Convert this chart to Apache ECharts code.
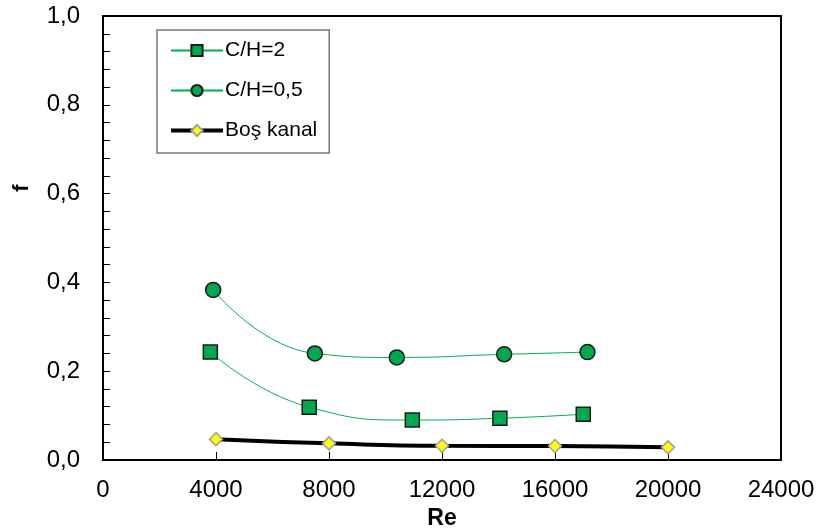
<!DOCTYPE html>
<html>
<head>
<meta charset="utf-8">
<script src="https://cdn.jsdelivr.net/npm/echarts@6/dist/echarts.min.js"></script>
<style>
  html, body { margin: 0; padding: 0; background: #fff; }
  #chart { width: 823px; height: 528px; }
</style>
</head>
<body>
<div id="chart"></div>
<script>
// Friction factor f against Reynolds number
const reCH2 = [3800, 7300, 10950, 14050, 17000];
const fCH2 = [0.243, 0.119, 0.090, 0.094, 0.103];

const reCH05 = [3900, 7500, 10400, 14200, 17150];
const fCH05 = [0.383, 0.240, 0.231, 0.238, 0.243];

const reEmpty = [4000, 8000, 12000, 16000, 20000];
const fEmpty = [0.047, 0.0375, 0.032, 0.0315, 0.0285];

const seriesNames = ['C/H=2', 'C/H=0,5', 'Boş kanal'];

const FONT = '"Liberation Sans", Arial, sans-serif';

function pairs(xs, ys) { return xs.map((x, i) => [x, ys[i]]); }

const chart = echarts.init(document.getElementById('chart'), null, { renderer: 'canvas' });

chart.setOption({
  animation: false,
  backgroundColor: '#ffffff',
  grid: {
    left: 103, right: 42, top: 16, bottom: 68,
    containLabel: false,
    outerBoundsMode: 'none',
    show: true, borderColor: '#000', borderWidth: 2, backgroundColor: 'transparent'
  },
  legend: {
    orient: 'vertical',
    left: 157, top: 30,
    padding: [10, 12, 12, 12],
    itemGap: 19,
    itemWidth: 52, itemHeight: 14,
    backgroundColor: '#fff',
    borderColor: '#777', borderWidth: 1.5,
    textStyle: { fontFamily: FONT, fontSize: 21, color: '#000', padding: [0, 0, 0, -3] },
    data: [
      { name: seriesNames[0] },
      { name: seriesNames[1] },
      { name: seriesNames[2], lineStyle: { width: 4, color: '#000' } }
    ]
  },
  xAxis: {
    type: 'value', min: 0, max: 24000, interval: 4000,
    name: 'Re', nameLocation: 'middle', nameGap: 34,
    nameTextStyle: { fontFamily: FONT, fontSize: 23, fontWeight: 'bold', color: '#000' },
    axisLine: { onZero: false, lineStyle: { color: '#000', width: 2 } },
    axisTick: { inside: true, length: 8, lineStyle: { color: '#000', width: 1 } },
    axisLabel: {
      fontFamily: FONT, fontSize: 24, color: '#000', margin: 18,
      formatter: v => String(v)
    },
    splitLine: { show: false }
  },
  yAxis: {
    type: 'value', min: 0, max: 1, interval: 0.2,
    name: 'f', nameLocation: 'middle', nameGap: 70, nameRotate: 90,
    nameTextStyle: {
      fontFamily: FONT, fontSize: 22, fontWeight: 'bold', color: '#000',
      padding: [0, 0, 0, 100]
    },
    axisLine: { onZero: false, lineStyle: { color: '#000', width: 2 } },
    axisTick: { inside: true, length: 7, lineStyle: { color: '#000', width: 1 } },
    minorTick: { show: true, splitNumber: 5, length: 7, lineStyle: { color: '#000', width: 1 } },
    axisLabel: {
      fontFamily: FONT, fontSize: 24, color: '#000', margin: 23,
      formatter: v => v.toFixed(1).replace('.', ',')
    },
    splitLine: { show: false },
    minorSplitLine: { show: false }
  },
  series: [
    {
      name: seriesNames[0], type: 'line', smooth: 0.5,
      data: pairs(reCH2, fCH2),
      symbol: 'rect', symbolSize: 14,
      lineStyle: { color: '#00B050', width: 1 },
      itemStyle: { color: '#00A84F', borderColor: '#1a1a1a', borderWidth: 1.5 },
      z: 3
    },
    {
      name: seriesNames[1], type: 'line', smooth: 0.5,
      data: pairs(reCH05, fCH05),
      symbol: 'circle', symbolSize: 15,
      lineStyle: { color: '#00B050', width: 1 },
      itemStyle: { color: '#00A84F', borderColor: '#1a1a1a', borderWidth: 1.5 },
      z: 3
    },
    {
      name: seriesNames[2], type: 'line', smooth: 0.5,
      data: pairs(reEmpty, fEmpty),
      symbol: 'diamond', symbolSize: 13,
      lineStyle: { color: '#000', width: 4 },
      itemStyle: { color: '#FFFF00', borderColor: '#A0A0A0', borderWidth: 1.5 },
      z: 2
    }
  ]
});
</script>
</body>
</html>
